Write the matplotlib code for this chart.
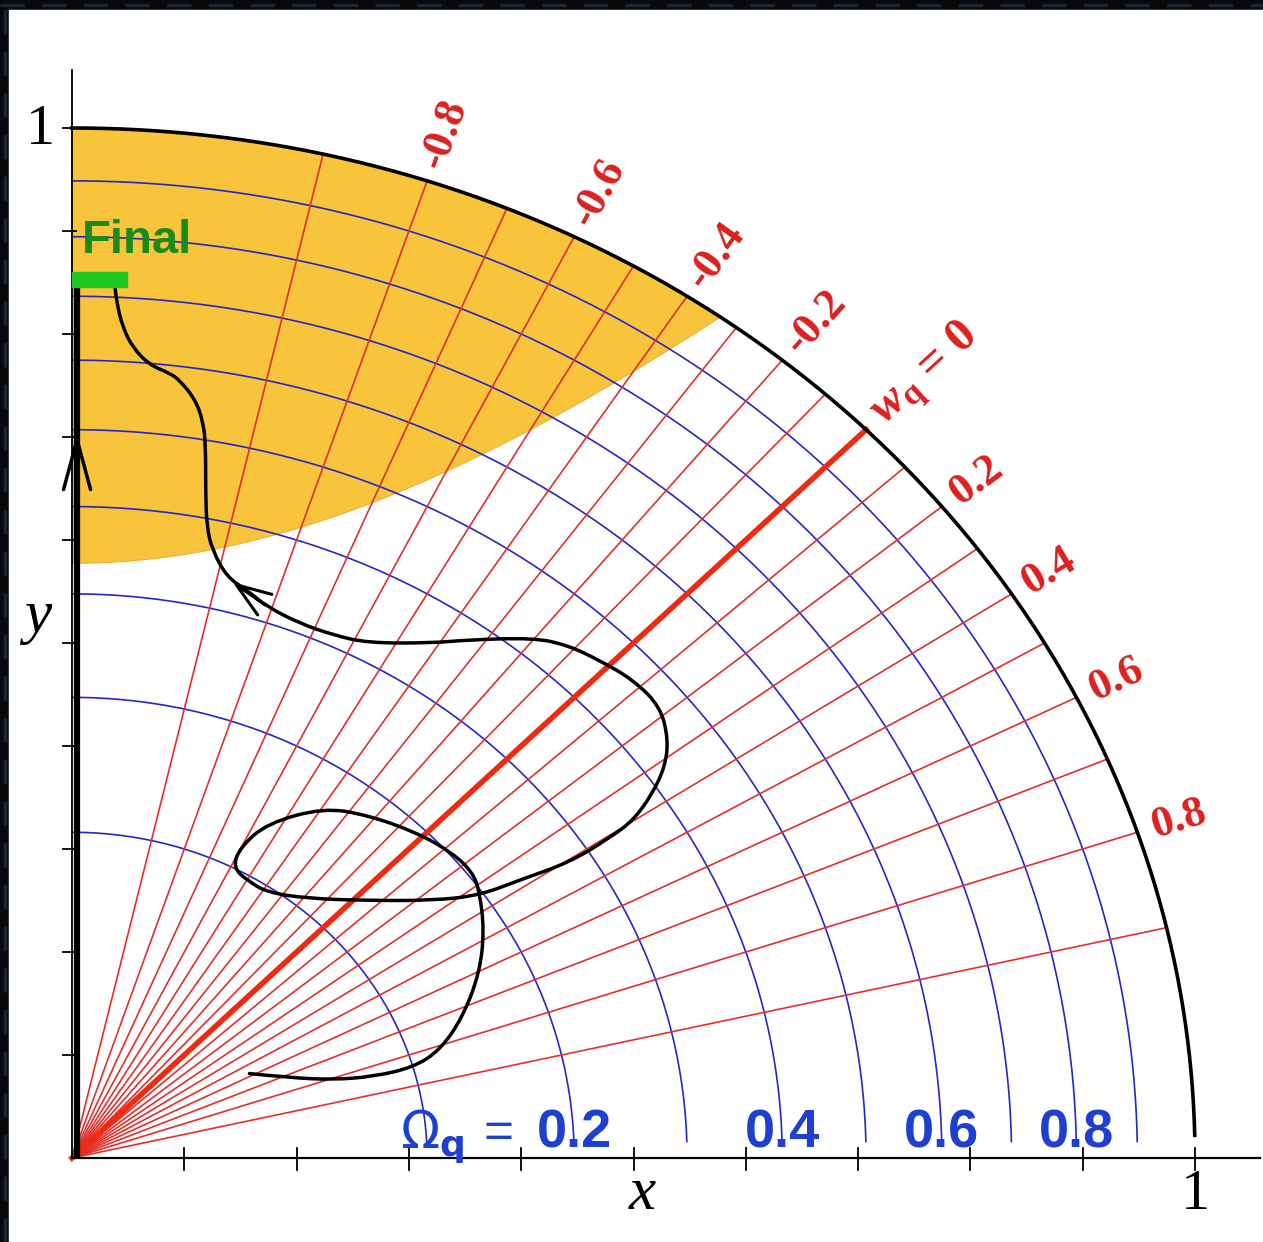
import numpy as np
import matplotlib
matplotlib.use("Agg")
import matplotlib.pyplot as plt
from matplotlib.patches import Rectangle, PathPatch
from matplotlib.path import Path

plt.rcParams['mathtext.fontset'] = 'custom'
plt.rcParams['mathtext.rm'] = 'Liberation Serif:bold'
plt.rcParams['mathtext.it'] = 'Liberation Serif:italic:bold'
plt.rcParams['mathtext.bf'] = 'Liberation Serif:bold'

# --- datos ---
omega_levels = [0.1, 0.2, 0.3, 0.4, 0.5, 0.6, 0.7, 0.8, 0.9]
omega_labels = [0.2, 0.4, 0.6, 0.8]
w_levels = [-0.9, -0.8, -0.7, -0.6, -0.5, -0.4, -0.3, -0.2, -0.1,
            0.1, 0.2, 0.3, 0.4, 0.5, 0.6, 0.7, 0.8, 0.9]
w_labels = [-0.8, -0.6, -0.4, -0.2, 0.0, 0.2, 0.4, 0.6, 0.8]
accel_limit = 1.0 / 3.0   # y^2 - x^2 > 1/3
axis_ticks = [0.1, 0.2, 0.3, 0.4, 0.5, 0.6, 0.7, 0.8, 0.9, 1.0]

traj_x = [0.158, 0.194, 0.232, 0.268, 0.304, 0.328, 0.348, 0.363, 0.367, 0.363,
          0.357, 0.339, 0.307, 0.263, 0.224, 0.174, 0.150, 0.143, 0.158, 0.174,
          0.209, 0.263, 0.321, 0.363, 0.399, 0.443, 0.479, 0.500, 0.517, 0.528,
          0.531, 0.524, 0.500, 0.470, 0.441, 0.411, 0.352, 0.321, 0.263, 0.232,
          0.203, 0.174, 0.156, 0.138, 0.125, 0.120, 0.119, 0.119, 0.117, 0.110,
          0.096, 0.087, 0.069, 0.054, 0.045, 0.040, 0.038]
traj_y = [0.082, 0.078, 0.076, 0.079, 0.088, 0.105, 0.137, 0.180, 0.221, 0.258,
          0.277, 0.296, 0.316, 0.333, 0.340, 0.325, 0.302, 0.282, 0.268, 0.258,
          0.252, 0.250, 0.250, 0.255, 0.270, 0.287, 0.311, 0.328, 0.354, 0.380,
          0.406, 0.438, 0.464, 0.483, 0.498, 0.505, 0.503, 0.500, 0.500, 0.508,
          0.519, 0.535, 0.551, 0.564, 0.590, 0.613, 0.646, 0.690, 0.714, 0.736,
          0.755, 0.762, 0.770, 0.787, 0.807, 0.830, 0.848]
lcdm_x = [0.0045, 0.0045]
lcdm_y = [0.0, 0.848]
final_x = [0.0, 0.049]
final_y = [0.846, 0.860]

# --- figura ---
fig = plt.figure(figsize=(12.63, 12.42), dpi=100)
fig.patch.set_facecolor('#07090c')
ax = fig.add_axes([0, 0, 1, 1])
ax.set_xlim(-72 / 1123, 1191 / 1123)
ax.set_ylim(-84 / 1030, 1158 / 1030)
ax.axis('off')
ax.patch.set_alpha(0)

ax.add_patch(Rectangle((9 / 1263, 0), 1 - 9 / 1263, 1 - 10 / 1242,
                       transform=fig.transFigure, color='white', zorder=0))
# borde oscuro con rayitas
ax.plot([0, 1], [1 - 5 / 1242] * 2, transform=fig.transFigure, color='#1c2631',
        lw=2.5, dashes=(7, 5), zorder=0.5, clip_on=False)
ax.plot([4.5 / 1263] * 2, [0, 1], transform=fig.transFigure, color='#1c2631',
        lw=2.5, dashes=(7, 5), zorder=0.5, clip_on=False)

# region de aceleracion
xs = np.linspace(0, np.sqrt((1 - accel_limit) / 2), 200)
lower = np.sqrt(accel_limit + xs ** 2)
upper = np.sqrt(1 - xs ** 2)
ax.fill(np.concatenate([xs, xs[::-1]]), np.concatenate([lower, upper[::-1]]),
        color='#f8c43c', lw=0.8, ec='#eeae3a', zorder=1)

# arcos de Omega
for om in omega_levels:
    r = np.sqrt(om)
    th = np.linspace(np.arcsin(0.016 / r), np.pi / 2, 300)
    ax.plot(r * np.cos(th), r * np.sin(th), color='#2626c8', lw=1.2, zorder=2)

# rectas de w
for w in w_levels:
    th = 0.5 * np.arccos(w)
    ax.plot([0, np.cos(th)], [0, np.sin(th)], color='#e0302c', lw=1.2, zorder=3)
th0 = 0.5 * np.arccos(0.0)
ax.plot([0, np.cos(th0)], [0, np.sin(th0)], color='#f02a10', lw=4, zorder=4)

# circulo unidad
th = np.linspace(0.022, np.pi / 2, 400)
ax.plot(np.cos(th), np.sin(th), color='black', lw=2.6, zorder=5)

# ejes
ax.plot([0, 1.058], [0, 0], color='black', lw=1.6, zorder=5)
ax.plot([0, 0], [0, 1.056], color='black', lw=1.3, zorder=5)
for t in axis_ticks:
    ax.plot([t, t], [-0.012, 0.010], color='black', lw=1.3, zorder=5)
    ax.plot([-0.008, 0.004], [t, t], color='black', lw=1.3, zorder=5)

ax.text(-0.0285, 0.998, '1', family='Liberation Serif', fontsize=42,
        ha='center', va='center', zorder=8)
ax.text(1.0, -0.036, '1', family='Liberation Serif', fontsize=42,
        ha='center', va='center', zorder=8)
ax.text(0.508, -0.035, 'x', family='Liberation Serif', style='italic',
        fontsize=44, ha='center', va='center', zorder=8)
ax.text(-0.031, 0.525, 'y', family='Liberation Serif', style='italic',
        fontsize=44, ha='center', va='center', zorder=8)

# trayectorias
ax.plot(lcdm_x, lcdm_y, color='black', lw=4.5, zorder=6, solid_capstyle='butt')
ax.annotate('', xy=(0.0045, 0.704), xytext=(0.0045, 0.60),
            arrowprops=dict(arrowstyle='->,head_length=1.0,head_width=0.27',
                            mutation_scale=36, lw=2.5, color='black',
                            shrinkA=0, shrinkB=0), zorder=6)

# curva suavizada (bezier cuadratica por los puntos medios)
pts = np.column_stack([traj_x, traj_y])
verts = [pts[0]]
codes = [Path.MOVETO]
for i in range(1, len(pts) - 1):
    verts += [pts[i], (pts[i] + pts[i + 1]) / 2]
    codes += [Path.CURVE3, Path.CURVE3]
verts.append(pts[-1])
codes.append(Path.LINETO)
ax.add_patch(PathPatch(Path(verts, codes), fc='none', ec='black', lw=2.5,
                       capstyle='round', joinstyle='round', zorder=6))
ax.annotate('', xy=(0.143, 0.559), xytext=(0.172, 0.537),
            arrowprops=dict(arrowstyle='->,head_length=1.0,head_width=0.36',
                            mutation_scale=25, lw=2.2, color='black',
                            shrinkA=0, shrinkB=0), zorder=6)

ax.add_patch(Rectangle((final_x[0], final_y[0]), final_x[1] - final_x[0],
                       final_y[1] - final_y[0], color='#22c822', zorder=7))
ax.text(0.009, 0.879, 'Final', family='Liberation Sans', weight='bold',
        fontsize=34, color='#1a8a1a', ha='left', va='baseline', zorder=8)

# etiquetas de w
for w in w_labels:
    th = 0.5 * np.arccos(w)
    p0 = ax.transData.transform((0, 0))
    p1 = ax.transData.transform((np.cos(th), np.sin(th)))
    ang = np.degrees(np.arctan2(p1[1] - p0[1], p1[0] - p0[0]))
    r = 1.014
    size = 32
    if w == 0:
        lab = r'$w_\mathrm{q}$ = 0'
        r = 1.015
        size = 35
    else:
        lab = f'{w:.1f}'
    ax.text(r * np.cos(th), r * np.sin(th), lab, family='Liberation Serif',
            weight='bold', fontsize=size, color='#dc2020', rotation=ang,
            rotation_mode='anchor', ha='left', va='center', zorder=8)

# etiquetas de Omega
blue = '#1f3fd0'
ax.text(0.292, 0.01, r'$\Omega_\mathbf{q}$', math_fontfamily='dejavusans',
        fontsize=37, color=blue, ha='left', va='baseline', zorder=8)
ax.text(0.366, 0.01, '=', family='Liberation Sans', fontsize=37, color=blue,
        ha='left', va='baseline', zorder=8)
for om in omega_labels:
    ax.text(np.sqrt(om), 0.01, f'{om:.1f}', family='Liberation Sans',
            weight='bold', fontsize=39, color=blue, ha='center',
            va='baseline', zorder=8)

fig.savefig('out.png', dpi=100, facecolor=fig.get_facecolor())
